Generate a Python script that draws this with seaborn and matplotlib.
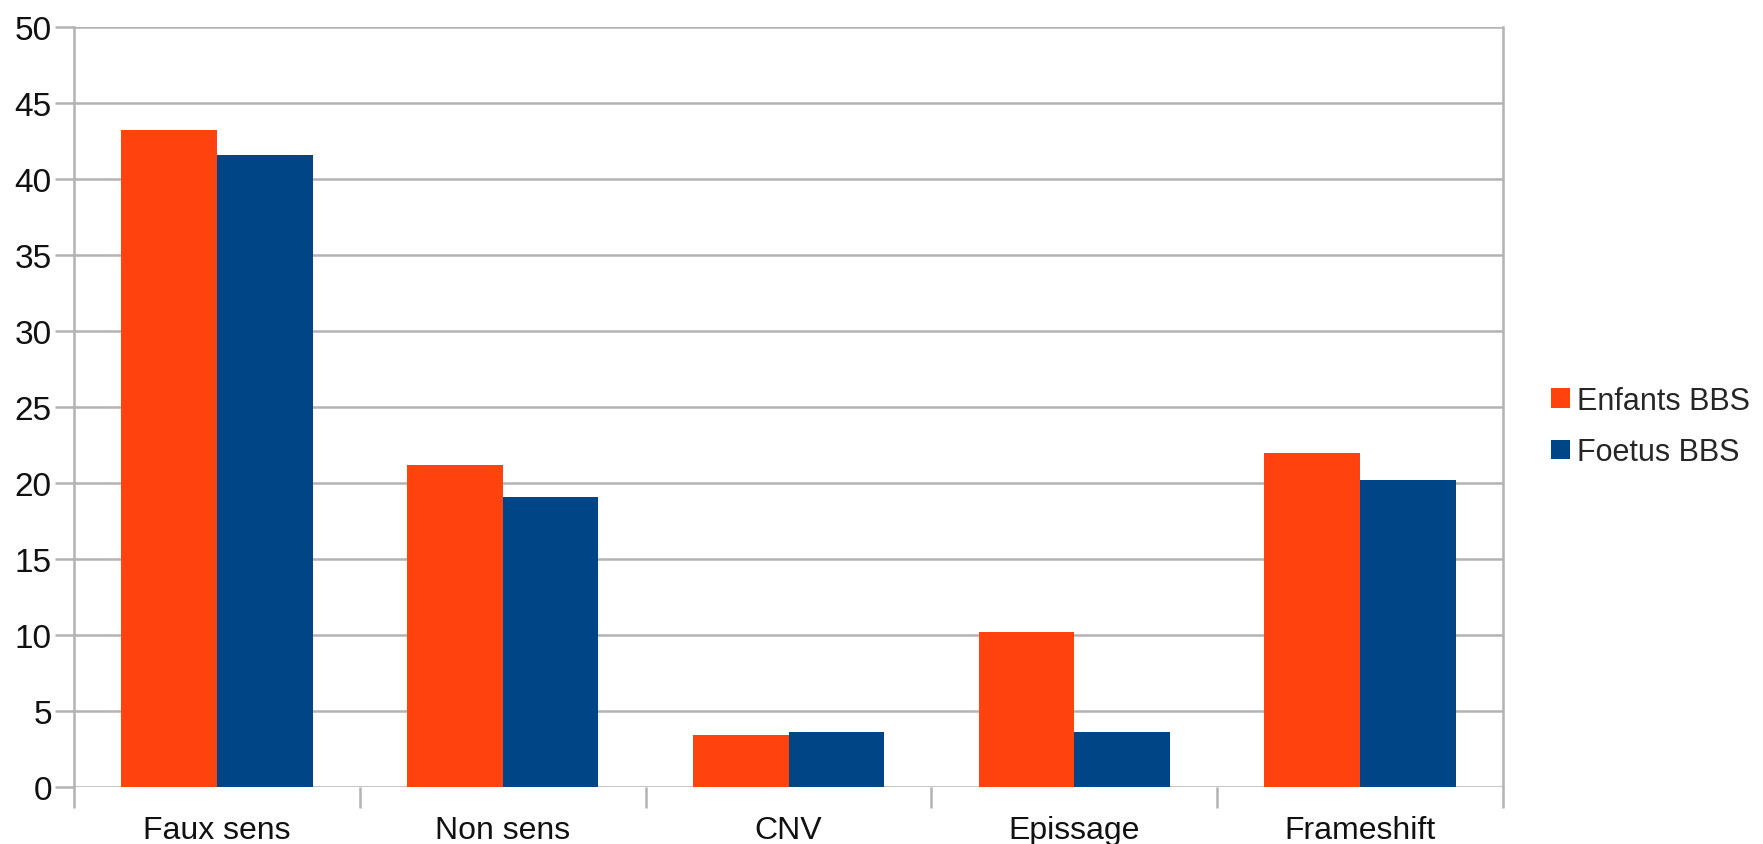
import matplotlib
matplotlib.use("Agg")
import matplotlib.pyplot as plt
import pandas as pd
import seaborn as sns
from matplotlib.patches import Patch

categories = ["Faux sens", "Non sens", "CNV", "Epissage", "Frameshift"]
enfants = [43.2, 21.2, 3.4, 10.2, 22.0]
foetus = [41.6, 19.1, 3.6, 3.6, 20.2]
series_names = ["Enfants BBS", "Foetus BBS"]
colors = ["#ff420e", "#004586"]
y_ticks = list(range(0, 51, 5))

df = pd.DataFrame({
    "cat": categories * 2,
    "val": enfants + foetus,
    "serie": [series_names[0]] * len(categories) + [series_names[1]] * len(categories),
})

sns.set_theme(style="white")
plt.rcParams["font.family"] = ["Liberation Sans", "DejaVu Sans"]

fig = plt.figure(figsize=(17.63, 8.45), dpi=100)
ax = fig.add_axes([0.042, 0.0675, 0.8105, 0.8994])

sns.barplot(data=df, x="cat", y="val", hue="serie", order=categories,
            hue_order=series_names, palette=colors, width=0.67, gap=0,
            saturation=1, linewidth=0, errorbar=None, legend=False, ax=ax)

grid_c = "#b3b3b3"
ax.set_ylim(0, 50)
ax.set_xlim(-0.5, len(categories) - 0.5)
ax.set_yticks(y_ticks)
ax.yaxis.grid(True, color=grid_c, linewidth=1.8)
ax.set_axisbelow(True)
ax.set_xlabel("")
ax.set_ylabel("")

# category boundaries carry the tick marks, labels sit at the centres
ax.set_xticks([i - 0.5 for i in range(len(categories) + 1)], minor=True)
ax.tick_params(axis="x", which="minor", length=15, width=1.8, color=grid_c, direction="out")
ax.tick_params(axis="x", which="major", length=0, pad=20, labelsize=23, labelcolor="#111111")
ax.tick_params(axis="y", which="major", length=14, width=1.8, color=grid_c, direction="out",
               pad=2, labelsize=24, labelcolor="#111111")
ax.tick_params(axis="both", which="both", bottom=True, left=True)

for side in ["left", "right"]:
    ax.spines[side].set_visible(True)
    ax.spines[side].set_color(grid_c)
    ax.spines[side].set_linewidth(1.8)
for side in ["top", "bottom"]:
    ax.spines[side].set_visible(False)

handles = [Patch(facecolor=c, edgecolor="none", label=n) for c, n in zip(colors, series_names)]
fig.legend(handles=handles, loc="center left", bbox_to_anchor=(0.880, 0.494),
           frameon=False, fontsize=22, handlelength=0.6, handleheight=0.6,
           handletextpad=0.25, labelspacing=0.7, borderpad=0, borderaxespad=0)

fig.savefig("out.png", dpi=100, facecolor="white")
